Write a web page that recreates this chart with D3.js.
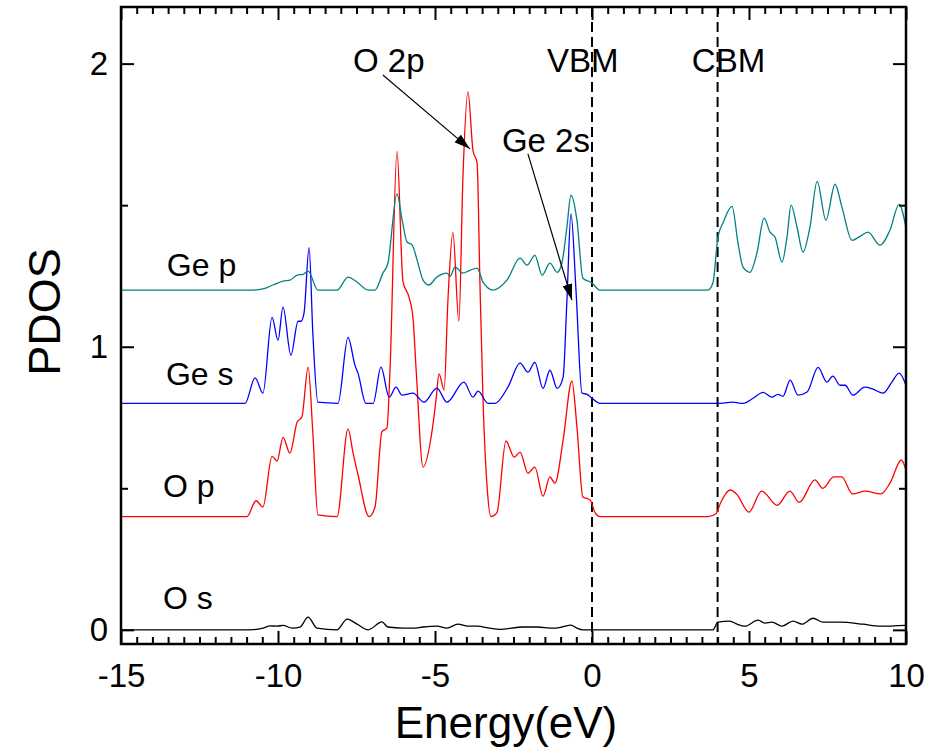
<!DOCTYPE html>
<html>
<head>
<meta charset="utf-8">
<script src="https://cdn.jsdelivr.net/npm/d3@7"></script>
<style>
  html, body { margin: 0; padding: 0; background: #fff; }
  svg { display: block; font-family: Arial, 'Liberation Sans', sans-serif; }
</style>
</head>
<body>
<script>
// PDOS, [energy (eV), value] pairs, without vertical offset
const oS = [[-15, 0], [-10.89, 0], [-10.48, 0.006], [-10.25, 0.014], [-10.03, 0.013], [-9.84, 0.016], [-9.55, 0.006], [-9.3, 0.01], [-9.04, 0.045], [-8.76, 0.006], [-8.12, 0], [-7.8, 0.038], [-7.48, 0.02], [-7.13, 0], [-6.69, 0.028], [-6.5, 0.01], [-6.02, 0.006], [-5.7, 0.006], [-5.38, 0.01], [-4.94, 0.013], [-4.62, 0.006], [-4.27, 0.02], [-3.95, 0.013], [-3.66, 0.013], [-3.25, 0.006], [-2.93, 0.002], [-2.2, 0.01], [-1.75, 0.01], [-1.24, 0.006], [-0.96, 0.01], [-0.67, 0.017], [-0.48, 0.006], [-0.29, 0], [3.85, 0], [4.01, 0.027], [4.39, 0.031], [4.62, 0.02], [4.87, 0.013], [5.29, 0.034], [5.51, 0.024], [5.73, 0.027], [6.05, 0.013], [6.4, 0.031], [6.69, 0.02], [7.04, 0.041], [7.36, 0.027], [7.9, 0.027], [8.63, 0.02], [9.17, 0.013], [10, 0.016]]

const oP = [[-15, 0], [-10.99, 0], [-10.7, 0.056], [-10.48, 0.034], [-10.19, 0.213], [-10.03, 0.196], [-9.84, 0.28], [-9.62, 0.224], [-9.39, 0.334], [-9.24, 0.352], [-9.04, 0.528], [-8.89, 0.295], [-8.73, 0.006], [-8.12, 0], [-7.77, 0.31], [-7.61, 0.225], [-7.45, 0.147], [-7.1, 0], [-6.91, 0.034], [-6.69, 0.3], [-6.53, 0.313], [-6.43, 0.527], [-6.21, 1.29], [-6.02, 0.83], [-5.83, 0.776], [-5.7, 0.7], [-5.6, 0.517], [-5.38, 0.175], [-5.1, 0.298], [-4.97, 0.41], [-4.87, 0.504], [-4.71, 0.447], [-4.59, 0.76], [-4.43, 1.004], [-4.24, 0.69], [-4.11, 1.2], [-3.95, 1.5], [-3.79, 1.293], [-3.66, 1.25], [-3.57, 0.83], [-3.47, 0.41], [-3.34, 0.104], [-3.22, 0], [-3.03, 0.013], [-2.74, 0.267], [-2.48, 0.21], [-2.29, 0.228], [-2.04, 0.153], [-1.82, 0.175], [-1.56, 0.072], [-1.34, 0.14], [-1.18, 0.118], [-0.92, 0.27], [-0.64, 0.479], [-0.48, 0.317], [-0.29, 0.069], [-0.06, 0.059], [0.1, 0.013], [0.25, 0], [3.7, 0], [3.95, 0.01], [4.1, 0.05], [4.4, 0.094], [4.6, 0.08], [5.0, 0.016], [5.4, 0.09], [5.9, 0.04], [6.3, 0.09], [6.6, 0.05], [7.1, 0.13], [7.35, 0.1], [7.7, 0.14], [7.95, 0.14], [8.3, 0.08], [8.7, 0.09], [9.2, 0.08], [9.5, 0.12], [9.85, 0.2], [10, 0.165]]

const geS = [[-15, 0], [-11.05, 0], [-10.73, 0.09], [-10.48, 0.036], [-10.19, 0.304], [-10.0, 0.223], [-9.84, 0.34], [-9.59, 0.17], [-9.36, 0.29], [-9.27, 0.29], [-9.17, 0.32], [-9.01, 0.55], [-8.89, 0.247], [-8.73, 0.004], [-8.09, 0], [-7.77, 0.233], [-7.55, 0.135], [-7.45, 0.106], [-7.2, 0], [-6.97, 0], [-6.72, 0.128], [-6.46, 0.022], [-6.24, 0.057], [-6.05, 0.029], [-5.7, 0.036], [-5.35, 0.004], [-4.94, 0.054], [-4.62, 0.004], [-4.08, 0.075], [-3.79, 0.022], [-3.63, 0.043], [-3.31, 0], [-3.09, 0], [-2.68, 0.057], [-2.29, 0.142], [-2.04, 0.11], [-1.82, 0.145], [-1.56, 0.053], [-1.34, 0.117], [-1.11, 0.053], [-0.92, 0.092], [-0.8, 0.36], [-0.67, 0.67], [-0.51, 0.4], [-0.32, 0.036], [-0.16, 0.032], [0, 0.018], [0.25, 0], [3.98, 0], [4.49, 0.004], [4.81, 0], [5.13, 0.018], [5.45, 0.039], [5.73, 0.022], [5.92, 0.032], [6.08, 0.025], [6.31, 0.082], [6.56, 0.029], [6.85, 0.04], [7.2, 0.127], [7.48, 0.075], [7.67, 0.096], [7.9, 0.064], [8.06, 0.064], [8.31, 0.029], [8.69, 0.057], [8.95, 0.05], [9.27, 0.036], [9.55, 0.075], [9.78, 0.107], [10, 0.064]]

const geP = [[-15, 0], [-10.83, 0], [-10.48, 0.004], [-10.16, 0.018], [-9.84, 0.032], [-9.62, 0.035], [-9.39, 0.053], [-9.2, 0.056], [-9.04, 0.067], [-8.73, 0], [-8.12, 0], [-7.77, 0.046], [-7.48, 0.028], [-7.13, 0], [-6.91, 0], [-6.66, 0.06], [-6.5, 0.095], [-6.21, 0.34], [-6.05, 0.25], [-5.89, 0.17], [-5.73, 0.16], [-5.57, 0.106], [-5.38, 0.035], [-5.2, 0.018], [-4.94, 0.046], [-4.62, 0.06], [-4.52, 0.049], [-4.36, 0.081], [-4.11, 0.06], [-3.89, 0.07], [-3.66, 0.078], [-3.47, 0.028], [-3.15, 0], [-2.71, 0.035], [-2.29, 0.113], [-2.07, 0.088], [-1.82, 0.123], [-1.59, 0.053], [-1.34, 0.095], [-1.11, 0.063], [-0.96, 0.095], [-0.8, 0.222], [-0.67, 0.335], [-0.48, 0.247], [-0.29, 0.042], [0, 0.025], [0.25, 0], [3.69, 0], [3.85, 0.025], [4.01, 0.187], [4.17, 0.237], [4.46, 0.296], [4.65, 0.166], [4.81, 0.081], [5.03, 0.063], [5.25, 0.13], [5.48, 0.254], [5.67, 0.205], [5.83, 0.187], [6.05, 0.099], [6.21, 0.187], [6.34, 0.3], [6.53, 0.222], [6.72, 0.134], [6.94, 0.222], [7.17, 0.384], [7.45, 0.247], [7.74, 0.374], [7.96, 0.293], [8.28, 0.176], [8.54, 0.19], [8.79, 0.205], [9.17, 0.159], [9.49, 0.212], [9.78, 0.303], [10, 0.22]]

const seriesNames = ['O s', 'O p', 'Ge s', 'Ge p']
const seriesData = [oS, oP, geS, geP]
const seriesOffsets = [0, 0.4, 0.8, 1.2]
const seriesColors = ['#000000', '#ff0000', '#0000ff', '#008080']
// label anchors (left, baseline) in data units
const labelPos = [[-13.66, 0.074], [-13.66, 0.469], [-13.57, 0.865], [-13.54, 1.25]]

const xTicks = [-15, -10, -5, 0, 5, 10]
const yTicks = [0, 1, 2]
const bandEdges = [0, 4] // VBM, CBM

const notes = [
  { text: 'O 2p', x: -7.61, y: 1.97, from: [-6.66, 1.96], to: [-3.89, 1.699] },
  { text: 'VBM', x: -1.43, y: 1.97 },
  { text: 'CBM', x: 3.18, y: 1.97 },
  { text: 'Ge 2s', x: -2.87, y: 1.688, from: [-2.04, 1.681], to: [-0.64, 1.165] }
]

const width = 944
const height = 754
const margin = { top: 7, right: 38, bottom: 110, left: 121 }

const x = d3.scaleLinear().domain([-15, 10]).range([margin.left, width - margin.right])
const y = d3.scaleLinear().domain([-0.05, 2.2]).range([height - margin.bottom, margin.top])

const svg = d3.select('body').append('svg')
  .attr('width', width)
  .attr('height', height)

svg.append('defs').append('marker')
  .attr('id', 'arrow')
  .attr('markerUnits', 'userSpaceOnUse')
  .attr('viewBox', '0 0 16 10')
  .attr('markerWidth', 16)
  .attr('markerHeight', 10)
  .attr('refX', 16)
  .attr('refY', 5)
  .attr('orient', 'auto')
  .append('path')
  .attr('d', 'M0,0L16,5L0,10Z')
  .attr('fill', '#000')

const plotBottom = y.range()[0]
const plotTop = y.range()[1]

// dashed VBM / CBM lines
svg.selectAll('.edge')
  .data(bandEdges)
  .enter().append('line')
  .attr('x1', d => x(d)).attr('x2', d => x(d))
  .attr('y1', plotTop).attr('y2', plotBottom)
  .attr('stroke', '#000')
  .attr('stroke-width', 2)
  .attr('stroke-dasharray', '10,5')

// curves
const line = d3.line()
  .x(d => x(d[0]))
  .y(d => y(d[1]))
  .curve(d3.curveMonotoneX)

seriesData.forEach((data, i) => {
  svg.append('path')
    .datum(data.map(d => [d[0], d[1] + seriesOffsets[i]]))
    .attr('d', line)
    .attr('fill', 'none')
    .attr('stroke', seriesColors[i])
    .attr('stroke-width', 1.3)
})

// axes with inward ticks on all four sides
const xMinor = d3.range(-15, 10.001, 0.5).filter(v => !xTicks.includes(v))
const yMinor = [0.5, 1.5]
const plainFormat = d => String(d)

const drawAxis = (axis, transform) => {
  const g = svg.append('g').attr('transform', transform).call(axis)
  g.select('.domain').remove()
  g.selectAll('line').attr('stroke', '#000').attr('stroke-width', 2)
  return g
}

const xb = drawAxis(d3.axisBottom(x).tickValues(xTicks).tickSize(-13).tickPadding(20).tickFormat(plainFormat), `translate(0,${plotBottom})`)
drawAxis(d3.axisBottom(x).tickValues(xMinor).tickSize(-7).tickFormat(''), `translate(0,${plotBottom})`)
drawAxis(d3.axisTop(x).tickValues(xTicks).tickSize(-13).tickFormat(''), `translate(0,${plotTop})`)
drawAxis(d3.axisTop(x).tickValues(xMinor).tickSize(-7).tickFormat(''), `translate(0,${plotTop})`)
const yl = drawAxis(d3.axisLeft(y).tickValues(yTicks).tickSize(-13).tickPadding(13).tickFormat(plainFormat), `translate(${margin.left},0)`)
drawAxis(d3.axisLeft(y).tickValues(yMinor).tickSize(-7).tickFormat(''), `translate(${margin.left},0)`)
drawAxis(d3.axisRight(y).tickValues(yTicks).tickSize(-13).tickFormat(''), `translate(${width - margin.right},0)`)
drawAxis(d3.axisRight(y).tickValues(yMinor).tickSize(-7).tickFormat(''), `translate(${width - margin.right},0)`)

xb.selectAll('text').attr('fill', '#000').style('font-size', '33px').style('font-family', 'Arial, Liberation Sans, sans-serif')
yl.selectAll('text').attr('fill', '#000').style('font-size', '33px').style('font-family', 'Arial, Liberation Sans, sans-serif')

// frame
svg.append('rect')
  .attr('x', margin.left)
  .attr('y', plotTop)
  .attr('width', x.range()[1] - margin.left)
  .attr('height', plotBottom - plotTop)
  .attr('fill', 'none')
  .attr('stroke', '#000')
  .attr('stroke-width', 2.5)

// series labels
svg.selectAll('.series-label')
  .data(seriesNames)
  .enter().append('text')
  .attr('x', (d, i) => x(labelPos[i][0]))
  .attr('y', (d, i) => y(labelPos[i][1]))
  .style('font-size', '32px')
  .text(d => d)

// annotations
notes.forEach(n => {
  svg.append('text')
    .attr('x', x(n.x))
    .attr('y', y(n.y))
    .style('font-size', '33px')
    .text(n.text)
  if (n.from) {
    svg.append('line')
      .attr('x1', x(n.from[0])).attr('y1', y(n.from[1]))
      .attr('x2', x(n.to[0])).attr('y2', y(n.to[1]))
      .attr('stroke', '#000')
      .attr('stroke-width', 1.2)
      .attr('marker-end', 'url(#arrow)')
  }
})

// axis titles
svg.append('text')
  .attr('x', 506)
  .attr('y', 738)
  .attr('text-anchor', 'middle')
  .style('font-size', '44px')
  .text('Energy(eV)')

svg.append('text')
  .attr('transform', 'translate(60, 312) rotate(-90)')
  .attr('text-anchor', 'middle')
  .style('font-size', '45px')
  .text('PDOS')
</script>
</body>
</html>
